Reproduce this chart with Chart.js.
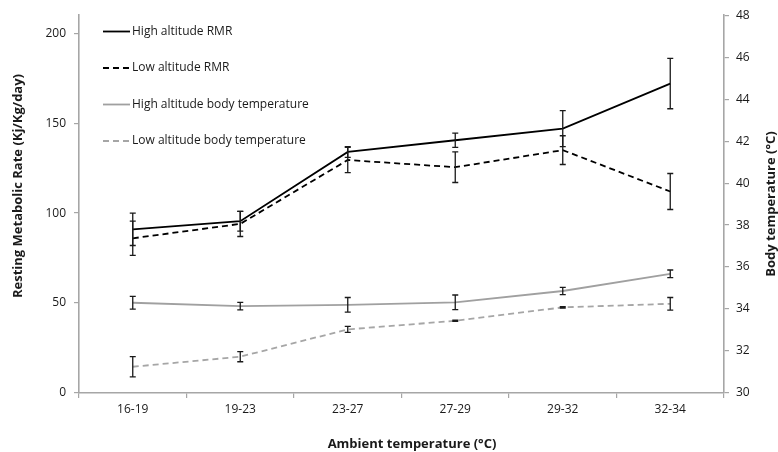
<!DOCTYPE html>
<html lang="en">
<head>
  <meta charset="UTF-8" />
  <title>Resting metabolic rate and body temperature</title>
  <script src="https://cdn.jsdelivr.net/npm/chart.js"></script>
  <style>
    html, body { margin: 0; padding: 0; background: #ffffff; }
    #wrap { width: 778px; height: 452px; position: relative; }
  </style>
</head>
<body>
  <div id="wrap">
    <canvas id="chart" width="778" height="452"></canvas>
  </div>

  <script>
    // data
    const categories = ["16-19", "19-23", "23-27", "27-29", "29-32", "32-34"];

    const highRMR = [91, 95.5, 134, 140.5, 147, 172];
    const highRMRErr = [9, 5.5, 3, 4, 10, 14];
    const lowRMR = [86, 94, 129.5, 125.5, 135, 112];
    const lowRMRErr = [9.5, 7, 7, 8.5, 8, 10];

    const highTemp = [34.3, 34.14, 34.2, 34.32, 34.86, 35.68];
    const highTempErr = [0.3, 0.18, 0.35, 0.35, 0.17, 0.18];
    const lowTemp = [31.25, 31.73, 33.03, 33.44, 34.08, 34.25];
    const lowTempErr = [0.48, 0.24, 0.14, 0.03, 0.03, 0.3];

    const FONT = "'Open Sans', 'Noto Sans', sans-serif";
    const AXIS_GREY = "#a6a6a6";
    const TEXT = "#1a1a1a";

    // vertical error bars with small caps
    const errorBars = {
      id: "errorBars",
      afterDatasetsDraw(chart) {
        const ctx = chart.ctx;
        ctx.save();
        ctx.strokeStyle = TEXT;
        ctx.lineWidth = 1.3;
        chart.data.datasets.forEach((ds, di) => {
          if (!ds.errors) return;
          const meta = chart.getDatasetMeta(di);
          const yScale = chart.scales[ds.yAxisID];
          meta.data.forEach((pt, i) => {
            const v = ds.data[i], e = ds.errors[i];
            const yTop = yScale.getPixelForValue(v + e);
            const yBot = yScale.getPixelForValue(v - e);
            const x = pt.x;
            ctx.beginPath();
            ctx.moveTo(x, yTop); ctx.lineTo(x, yBot);
            ctx.moveTo(x - 3, yTop); ctx.lineTo(x + 3, yTop);
            ctx.moveTo(x - 3, yBot); ctx.lineTo(x + 3, yBot);
            ctx.stroke();
          });
        });
        ctx.restore();
      }
    };

    // legend inside the plot and the three axis titles
    const extras = {
      id: "extras",
      afterDraw(chart) {
        const ctx = chart.ctx;
        ctx.save();
        ctx.font = "12px " + FONT;
        ctx.textBaseline = "middle";
        ctx.fillStyle = TEXT;
        const rows = [31.5, 68, 104.5, 141];
        chart.data.datasets.forEach((ds, i) => {
          const y = rows[i];
          ctx.strokeStyle = ds.borderColor;
          ctx.lineWidth = ds.borderWidth;
          ctx.setLineDash(ds.borderDash || []);
          ctx.beginPath();
          ctx.moveTo(103, y);
          ctx.lineTo(130, y);
          ctx.stroke();
          ctx.setLineDash([]);
          ctx.fillText(ds.label, 132, y);
        });

        ctx.font = "bold 13px " + FONT;
        ctx.textAlign = "center";
        ctx.fillText("Ambient temperature (°C)", 412, 444);

        ctx.save();
        ctx.translate(18, 186);
        ctx.rotate(-Math.PI / 2);
        ctx.fillText("Resting Metabolic Rate (Kj/Kg/day)", 0, 0);
        ctx.restore();

        ctx.translate(771, 204);
        ctx.rotate(-Math.PI / 2);
        ctx.fillText("Body temperature (°C)", 0, 0);
        ctx.restore();
      }
    };

    new Chart(document.getElementById("chart"), {
      type: "line",
      data: {
        labels: categories,
        datasets: [
          {
            label: "High altitude RMR",
            data: highRMR,
            errors: highRMRErr,
            yAxisID: "y",
            borderColor: "#000000",
            borderWidth: 1.8
          },
          {
            label: "Low altitude RMR",
            data: lowRMR,
            errors: lowRMRErr,
            yAxisID: "y",
            borderColor: "#000000",
            borderWidth: 1.8,
            borderDash: [6, 4]
          },
          {
            label: "High altitude body temperature",
            data: highTemp,
            errors: highTempErr,
            yAxisID: "y1",
            borderColor: "#a0a0a0",
            borderWidth: 1.8
          },
          {
            label: "Low altitude body temperature",
            data: lowTemp,
            errors: lowTempErr,
            yAxisID: "y1",
            borderColor: "#a6a6a6",
            borderWidth: 1.8,
            borderDash: [6, 4]
          }
        ]
      },
      options: {
        responsive: false,
        animation: false,
        layout: { padding: { top: 15, left: 0, right: 0, bottom: 0 } },
        elements: { point: { radius: 0, hoverRadius: 0 }, line: { tension: 0 } },
        plugins: {
          legend: { display: false },
          tooltip: { enabled: false }
        },
        scales: {
          x: {
            offset: true,
            grid: {
              offset: true, drawOnChartArea: false, drawTicks: true,
              tickLength: 5, color: AXIS_GREY, lineWidth: 1.2
            },
            border: { color: AXIS_GREY, width: 1.6 },
            ticks: { color: TEXT, font: { family: FONT, size: 12 }, padding: 4, maxRotation: 0 },
            afterFit(scale) { scale.height = 59; }
          },
          y: {
            position: "left",
            min: 0,
            max: 210,
            grid: { drawOnChartArea: false, tickLength: 5, color: AXIS_GREY, lineWidth: 1.2 },
            border: { color: AXIS_GREY, width: 1.6 },
            ticks: { stepSize: 50, color: TEXT, font: { family: FONT, size: 12 }, padding: 8 },
            afterBuildTicks(scale) { scale.ticks = scale.ticks.filter(t => t.value % 50 === 0); },
            afterFit(scale) { scale.width = 79; }
          },
          y1: {
            position: "right",
            min: 30,
            max: 48,
            grid: { drawOnChartArea: false, tickLength: 5, color: AXIS_GREY, lineWidth: 1.2 },
            border: { color: AXIS_GREY, width: 1.6 },
            ticks: { stepSize: 2, color: TEXT, font: { family: FONT, size: 12 }, padding: 7 },
            afterFit(scale) { scale.width = 54; }
          }
        }
      },
      plugins: [errorBars, extras]
    });
  </script>
</body>
</html>
